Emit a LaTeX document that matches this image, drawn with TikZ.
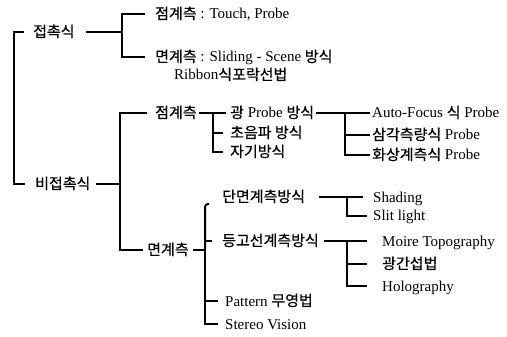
\documentclass[tikz,border=0pt]{standalone}
\usepackage{fontspec}
\setmainfont{Liberation Serif}
\newfontfamily\krfont[FakeBold=0.5]{Noto Sans CJK KR}
\newcommand\K[1]{{\krfont #1}}

\begin{document}
\begin{tikzpicture}[x=1pt,y=-1pt,
  lbl/.style={anchor=west, inner xsep=2pt, inner ysep=0pt,
              text height=12pt, text depth=2pt,
              font=\fontsize{15}{17}\selectfont},
  br/.style={line width=2pt}]
\useasboundingbox (0,0) rectangle (507,337);

% classification labels
\node[lbl] (contact)    at (31,32)  {\K{접촉식}};
\node[lbl] (noncontact) at (33,184) {\K{비접촉식}};
\node[lbl] (touch)      at (153,14) {\K{점계측} : Touch, Probe};
\node[lbl] (slide)      at (153,57) {\K{면계측} : Sliding - Scene \K{방식}};
\node[lbl] (ribbon)     at (172,75) {Ribbon\K{식포락선법}};
\node[lbl] (point)      at (153,113) {\K{점계측}};
\node[lbl] (surf)       at (145,250) {\K{면계측}};
\node[lbl] (opt)        at (228,113) {\K{광} Probe \K{방식}};
\node[lbl] (ultra)      at (228,133) {\K{초음파 방식}};
\node[lbl] (mag)        at (228,152) {\K{자기방식}};
\node[lbl] (af)         at (370,113) {Auto-Focus \K{식} Probe};
\node[lbl] (tri)        at (370,135) {\K{삼각측량식} Probe};
\node[lbl] (img)        at (370,155) {\K{화상계측식} Probe};
\node[lbl] (sect)       at (220,197) {\K{단면계측방식}};
\node[lbl] (contour)    at (220,241) {\K{등고선계측방식}};
\node[lbl] (pattern)    at (223,301) {Pattern \K{무영법}};
\node[lbl] (stereo)     at (223,324) {Stereo Vision};
\node[lbl] (shading)    at (371,197) {Shading};
\node[lbl] (slit)       at (371,216) {Slit light};
\node[lbl] (moire)      at (380,241) {Moire Topography};
\node[lbl] (interf)     at (380,264) {\K{광간섭법}};
\node[lbl] (holo)       at (380,286) {Holography};

% bracket spines
\coordinate (s0) at (14,100);
\coordinate (s1) at (122,30);
\coordinate (s2) at (120,180);
\coordinate (s3) at (213,130);
\coordinate (s4) at (345,130);
\coordinate (s5) at (205,250);
\coordinate (hookend) at (209,204);
\coordinate (s6) at (347,205);
\coordinate (s7) at (347,260);

% root
\draw[br] ([xshift=-7pt]contact.west) -| (s0) |- ([xshift=-8pt]noncontact.west);

% contact branch
\draw[br] ([xshift=9pt]contact.east) -- (contact.east -| s1);
\draw[br] ([xshift=-8pt]touch.west) -| (s1) |- ([xshift=-8pt]slide.west);

% non-contact branch
\draw[br] ([xshift=3pt]noncontact.east) -- (noncontact.east -| s2);
\draw[br] ([xshift=-6pt]point.west) -| (s2) |- ([xshift=-2pt]surf.west);

% point measurement
\draw[br] (point.east) -- ([xshift=-2pt]opt.west);
\draw[br] (s3 |- opt.west) |- ([xshift=-5pt]mag.west);
\draw[br] (s3 |- ultra.west) -- ([xshift=-5pt]ultra.west);

% optical probe
\draw[br] (opt.east) -- (af.west);
\draw[br] (s4 |- af.west) |- (img.west);
\draw[br] (s4 |- tri.west) -- (tri.west);

% surface measurement
\draw[br] ([xshift=2pt]surf.east) -- (surf.east -| s5);
\draw[br] ([xshift=-5pt]stereo.west) -| (s5);
\draw[br, rounded corners=3pt] (s5) |- (hookend);
\draw[br] (s5 |- contour.west) -- ([xshift=-8pt]contour.west);
\draw[br] (s5 |- pattern.west) -- ([xshift=-5pt]pattern.west);

% section measurement
\draw[br] ([xshift=12pt]sect.east) -- ([xshift=-8pt]shading.west);
\draw[br] (s6 |- shading.west) |- ([xshift=-4pt]slit.west);

% contour measurement
\draw[br] ([xshift=3pt]contour.east) -- ([xshift=-13pt]moire.west);
\draw[br] (s7 |- moire.west) |- ([xshift=-13pt]holo.west);
\draw[br] (s7 |- interf.west) -- ([xshift=-13pt]interf.west);
\end{tikzpicture}
\end{document}
